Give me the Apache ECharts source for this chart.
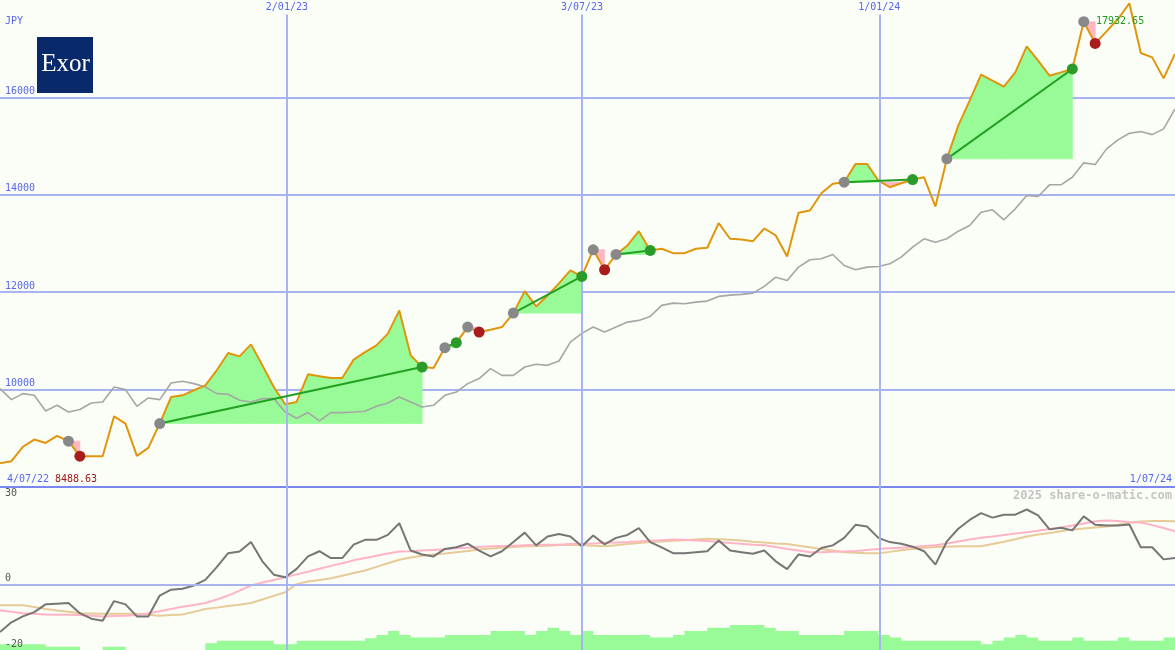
<!DOCTYPE html>
<html><head><meta charset="utf-8">
<script src="https://cdn.jsdelivr.net/npm/echarts@6/dist/echarts.min.js"></script>
<style>html,body{margin:0;padding:0;background:#fbfdf7}#c{width:1175px;height:650px}</style>
</head><body><div id="c"></div>
<script>
// ---------- data (weekly points, index 0..103) ----------
const price = [
8488.63, 8529, 8823, 8974, 8905, 9048, 8940, 8632, 8632, 8632,
9452, 9303, 8638, 8802, 9303, 9848, 9883, 9986, 10088, 10396,
10751, 10683, 10929, 10498, 10053, 9699, 9746, 10314, 10273, 10238,
10238, 10615, 10771, 10909, 11149, 11626, 10703, 10464, 10443, 10861,
10964, 11284, 11181, 11231, 11284, 11571, 12022, 11708, 11934, 12180,
12447, 12324, 12871, 12461, 12775, 12960, 13253, 12857, 12892, 12802,
12802, 12892, 12912, 13417, 13097, 13083, 13048, 13308, 13165, 12734,
13630, 13677, 14032, 14225, 14258, 14635, 14635, 14293, 14155, 14237,
14313, 14360, 13759, 14738, 15421, 15934, 16467, 16344, 16221, 16514,
17047, 16754, 16446, 16514, 16584, 17554, 17109, 17355, 17609, 17932.65,
16912, 16822, 16391, 16891];
const bench = [
10021, 9795, 9918, 9883, 9561, 9678, 9541, 9590, 9725, 9746,
10053, 10000, 9657, 9828, 9795, 10135, 10170, 10123, 10053, 9918,
9904, 9781, 9746, 9815, 9815, 9541, 9411, 9528, 9356, 9528,
9528, 9541, 9555, 9657, 9725, 9848, 9746, 9643, 9678, 9883,
9951, 10123, 10226, 10431, 10293, 10293, 10464, 10519, 10498, 10587,
10976, 11155, 11284, 11181, 11284, 11386, 11421, 11503, 11729, 11776,
11764, 11797, 11817, 11914, 11940, 11955, 11981, 12119, 12309, 12242,
12515, 12666, 12687, 12775, 12549, 12461, 12515, 12529, 12584, 12720,
12925, 13097, 13027, 13097, 13253, 13370, 13643, 13692, 13487, 13712,
13985, 13965, 14205, 14205, 14360, 14656, 14621, 14943, 15128, 15263,
15298, 15236, 15353, 15763];
const momentum = [
-14.5, -11.5, -9.7, -8.4, -6.0, -5.8, -5.6, -8.7, -10.4, -11.0,
-5.0, -6.0, -9.7, -9.7, -3.3, -1.5, -1.2, -0.2, 1.5, 5.4,
9.7, 10.2, 13.1, 7.2, 3.1, 2.3, 4.9, 8.7, 10.3, 8.2,
8.2, 12.3, 13.8, 13.8, 15.3, 18.9, 10.5, 9.3, 8.7, 11.0,
11.5, 12.6, 10.5, 8.7, 10.3, 13.1, 16.0, 12.1, 14.8, 15.6,
14.8, 11.8, 15.1, 12.4, 14.4, 15.3, 17.4, 13.1, 11.5, 9.7,
9.7, 10.0, 10.3, 13.6, 10.5, 10.0, 9.5, 10.5, 7.2, 4.8,
9.3, 8.7, 11.3, 12.1, 14.4, 18.4, 17.9, 14.4, 13.1, 12.6,
11.7, 10.3, 6.2, 13.3, 17.2, 19.9, 22.0, 20.6, 21.5, 21.5,
23.1, 21.3, 17.0, 17.5, 16.7, 21.0, 18.4, 18.2, 18.2, 18.5,
11.5, 11.5, 7.8, 8.2];
const avgFast = [
-7.9, -8.3, -8.7, -8.9, -9.1, -9.2, -9.2, -9.3, -9.5, -9.7,
-9.6, -9.5, -9.3, -8.7, -8.1, -7.4, -6.7, -6.2, -5.6, -4.5,
-3.3, -1.8, -0.2, 0.7, 1.5, 2.3, 3.2, 4.0, 4.9, 5.8,
6.6, 7.5, 8.2, 8.9, 9.6, 10.2, 10.3, 10.5, 10.7, 10.9,
11.2, 11.4, 11.6, 11.8, 11.9, 12.0, 12.1, 12.2, 12.3, 12.3,
12.5, 12.6, 12.7, 12.9, 13.0, 13.1, 13.3, 13.5, 13.7, 13.9,
13.8, 13.6, 13.4, 13.1, 12.8, 12.6, 12.3, 12.1, 11.6, 11.0,
10.5, 10.0, 10.0, 10.1, 10.2, 10.4, 10.7, 11.0, 11.2, 11.4,
11.6, 11.9, 12.1, 12.7, 13.3, 13.9, 14.4, 14.8, 15.3, 15.7,
16.1, 16.6, 17.1, 17.6, 18.2, 18.8, 19.5, 19.7, 19.6, 19.3,
19.1, 18.3, 17.4, 16.4];
const avgSlow = [
-6.3, -6.3, -6.3, -6.8, -7.4, -7.9, -8.3, -8.7, -8.8, -8.9,
-8.9, -8.9, -8.9, -9.2, -9.5, -9.3, -9.1, -8.3, -7.4, -7.0,
-6.5, -6.1, -5.6, -4.5, -3.4, -2.3, 0.2, 1.0, 1.5, 2.0,
2.8, 3.6, 4.4, 5.5, 6.6, 7.7, 8.4, 8.9, 9.3, 9.6,
10.0, 10.4, 10.8, 11.1, 11.4, 11.6, 11.8, 11.9, 12.0, 12.2,
12.3, 12.2, 12.0, 11.8, 12.1, 12.5, 12.8, 13.1, 13.3, 13.5,
13.7, 13.9, 14.1, 14.0, 13.8, 13.6, 13.2, 13.0, 12.7, 12.5,
12.0, 11.5, 11.0, 10.5, 10.0, 9.8, 9.7, 9.7, 10.1, 10.6,
11.0, 11.4, 11.6, 11.7, 11.8, 11.8, 11.8, 12.5, 13.2, 14.0,
14.8, 15.4, 15.9, 16.4, 17.0, 17.3, 17.6, 17.9, 18.4, 19.0,
19.4, 19.6, 19.6, 19.5];
const volumeLevel = [
-18.2, -18.2, -18.2, -18.2, -19.0, -19.0, -19.0, -20, -20, -19.0,
-19.0, -20, -20, -20, -20, -20, -20, -20, -17.9, -17.2,
-17.2, -17.2, -17.2, -17.2, -18.2, -18.2, -17.2, -17.2, -17.2, -17.2,
-17.2, -17.2, -16.4, -15.4, -14.2, -15.4, -16.2, -16.2, -16.2, -15.4,
-15.4, -15.4, -15.4, -14.2, -14.2, -14.2, -15.4, -14.2, -13.2, -14.2,
-15.4, -14.2, -15.4, -15.4, -15.4, -15.4, -15.4, -16.2, -16.2, -15.4,
-14.2, -14.2, -13.2, -13.2, -12.3, -12.3, -12.3, -13.2, -14.2, -14.2,
-15.4, -15.4, -15.4, -15.4, -14.2, -14.2, -14.2, -15.4, -16.2, -17.2,
-17.2, -17.2, -17.2, -17.2, -17.2, -17.2, -18.2, -17.2, -16.2, -15.4,
-16.2, -17.2, -17.2, -17.2, -16.2, -17.2, -17.2, -17.2, -16.2, -17.2,
-17.2, -17.2, -16.2, -16.2];
// trades: [entry index, exit index]
const trades = [[6,7],[14,37],[39,40],[41,42],[45,51],[52,53],[54,57],[74,80],[83,94],[95,96]];
// date grid lines (position in week index units)
const dateLineLabels = ['2/01/23', '3/07/23', '1/01/24'];
const dateLinePos = [25.15, 51.02, 77.08];
const firstDate = '4/07/22', lastDate = '1/07/24';
const topTicks = [10000, 12000, 14000, 16000];
const bottomTicks = [0, -20];
const bottomTopTick = 30;
const currency = 'JPY';
const brand = 'Exor';
const credit = '2025 share-o-matic.com';

// ---------- chart ----------
const MONO = '"DejaVu Sans Mono", monospace';
const BLUE_TXT = '#5866ee';
const GRID_LINE = '#a8b3f2';
const GREEN_FILL = '#98fb98';
const PINK_FILL = '#ffb6c1';
const pair = arr => arr.map((v, i) => [i, v]);
const last = price.length - 1;
const minV = Math.min(...price), maxV = Math.max(...price);

const tradeData = trades.map(t => [t[0], price[t[0]], t[1], price[t[1]]]);

function renderFill(params, api) {
  const i0 = api.value(0), i1 = api.value(2);
  const lvl = price[i0];
  const kids = [];
  const poly = (pts, up) => ({
    type: 'polygon',
    shape: { points: pts.map(p => api.coord(p)) },
    style: { fill: up ? GREEN_FILL : PINK_FILL, stroke: up ? GREEN_FILL : PINK_FILL, lineWidth: 0.8 }
  });
  for (let k = i0; k < i1; k++) {
    const a = price[k], b = price[k + 1];
    if (a >= lvl && b >= lvl) kids.push(poly([[k, lvl], [k, a], [k + 1, b], [k + 1, lvl]], true));
    else if (a <= lvl && b <= lvl) kids.push(poly([[k, lvl], [k, a], [k + 1, b], [k + 1, lvl]], false));
    else {
      const xc = k + (lvl - a) / (b - a);
      kids.push(poly([[k, lvl], [k, a], [xc, lvl]], a > lvl));
      kids.push(poly([[xc, lvl], [k + 1, b], [k + 1, lvl]], b > lvl));
    }
  }
  return { type: 'group', children: kids };
}
function renderTradeLine(params, api) {
  const win = api.value(3) >= api.value(1);
  if (!win) return null;
  const p0 = api.coord([api.value(0), api.value(1)]);
  const p1 = api.coord([api.value(2), api.value(3)]);
  return { type: 'line', shape: { x1: p0[0], y1: p0[1], x2: p1[0], y2: p1[1] },
    style: { stroke: '#22a022', lineWidth: 2 } };
}

const chart = echarts.init(document.getElementById('c'));
chart.setOption({
  animation: false,
  backgroundColor: '#fbfdf7',
  grid: [
    { left: 0, right: 0, top: 0, height: 487 },
    { left: 0, right: 0, top: 487, height: 163 }
  ],
  xAxis: [
    { gridIndex: 0, type: 'value', min: 0, max: last, show: true, position: 'bottom',
      axisLine: { show: true, onZero: false, lineStyle: { color: '#7a87ee', width: 2 } },
      axisTick: { show: false }, axisLabel: { show: false }, splitLine: { show: false } },
    { gridIndex: 1, type: 'value', min: 0, max: last, show: false }
  ],
  yAxis: [
    { gridIndex: 0, type: 'value', min: 8000, max: 18000, interval: 2000,
      axisLine: { show: false }, axisTick: { show: false },
      splitLine: { show: true, showMinLine: false, showMaxLine: false, lineStyle: { color: GRID_LINE, width: 2 } },
      axisLabel: { inside: true, margin: 5, verticalAlign: 'bottom', color: BLUE_TXT, fontFamily: MONO, fontSize: 10, lineHeight: 12,
        formatter: v => topTicks.includes(v) ? String(v) : '' } },
    { gridIndex: 1, type: 'value', min: -20, max: 30, interval: 10, z: 10,
      axisLine: { show: false }, axisTick: { show: false }, splitLine: { show: false },
      axisLabel: { inside: true, margin: 5, verticalAlign: 'bottom', color: '#555555', fontFamily: MONO, fontSize: 10, lineHeight: 12,
        formatter: v => bottomTicks.includes(v) ? String(v) : '' } },
    { gridIndex: 1, type: 'value', min: -20, max: 30, interval: 10, position: 'left', z: 10,
      axisLine: { show: false }, axisTick: { show: false }, splitLine: { show: false },
      axisLabel: { inside: true, margin: 5, verticalAlign: 'top', color: '#555555', fontFamily: MONO, fontSize: 10, lineHeight: 12,
        formatter: v => v === bottomTopTick ? String(v) : '' } }
  ],
  series: [
    // bottom panel helper: date lines + zero line
    { type: 'line', xAxisIndex: 1, yAxisIndex: 1, data: [], z: 0, silent: true,
      markLine: { silent: true, symbol: ['none', 'none'], animation: false, label: { show: false },
        lineStyle: { color: GRID_LINE, width: 2, type: 'solid' },
        data: dateLinePos.map(x => [{ coord: [x, 30] }, { coord: [x, -20] }]).concat([{ yAxis: 0 }]) } },
    { type: 'line', xAxisIndex: 1, yAxisIndex: 1, data: pair(volumeLevel), step: 'end', symbol: 'none', z: 1,
      lineStyle: { width: 0 }, areaStyle: { color: GREEN_FILL, opacity: 1, origin: 'start' }, silent: true },
    { type: 'line', xAxisIndex: 1, yAxisIndex: 1, data: pair(avgSlow), symbol: 'none', z: 2,
      lineStyle: { color: '#e6cb98', width: 2 }, silent: true },
    { type: 'line', xAxisIndex: 1, yAxisIndex: 1, data: pair(avgFast), symbol: 'none', z: 3,
      lineStyle: { color: '#ffb4c6', width: 2 }, silent: true },
    { type: 'line', xAxisIndex: 1, yAxisIndex: 1, data: pair(momentum), symbol: 'none', z: 4,
      lineStyle: { color: '#767676', width: 2 }, silent: true },
    // top panel
    { type: 'custom', xAxisIndex: 0, yAxisIndex: 0, data: tradeData, encode: { x: 0, y: 1 }, renderItem: renderFill, z: 1, silent: true },
    { type: 'line', xAxisIndex: 0, yAxisIndex: 0, data: [], z: 2, silent: true,
      markLine: { silent: true, symbol: ['none', 'none'], animation: false,
        lineStyle: { color: GRID_LINE, width: 2, type: 'solid' },
        label: { show: true, position: 'start', distance: 2, formatter: '{b}', color: BLUE_TXT, fontFamily: MONO, fontSize: 10 },
        data: dateLinePos.map((x, i) => [{ coord: [x, 17700], name: dateLineLabels[i] }, { coord: [x, 8000] }]) } },
    { type: 'line', xAxisIndex: 0, yAxisIndex: 0, data: pair(bench), symbol: 'none', z: 3,
      lineStyle: { color: '#a6a6a6', width: 1.6 }, silent: true },
    { type: 'line', xAxisIndex: 0, yAxisIndex: 0, data: pair(price), symbol: 'none', z: 4,
      lineStyle: { color: '#e0960c', width: 2 }, silent: true },
    { type: 'custom', xAxisIndex: 0, yAxisIndex: 0, data: tradeData, encode: { x: 0, y: 1 }, renderItem: renderTradeLine, z: 5, silent: true },
    { type: 'scatter', xAxisIndex: 0, yAxisIndex: 0, symbolSize: 11, z: 6, silent: true,
      itemStyle: { color: '#888888', opacity: 1 }, data: trades.map(t => [t[0], price[t[0]]]) },
    { type: 'scatter', xAxisIndex: 0, yAxisIndex: 0, symbolSize: 11, z: 6, silent: true,
      itemStyle: { color: '#2a9a2a', opacity: 1 }, data: trades.filter(t => price[t[1]] >= price[t[0]]).map(t => [t[1], price[t[1]]]) },
    { type: 'scatter', xAxisIndex: 0, yAxisIndex: 0, symbolSize: 11, z: 6, silent: true,
      itemStyle: { color: '#a81c1c', opacity: 1 }, data: trades.filter(t => price[t[1]] < price[t[0]]).map(t => [t[1], price[t[1]]]) }
  ],
  graphic: [
    { type: 'rect', left: 37, top: 37, shape: { width: 56, height: 56 }, style: { fill: '#08296a' }, z: 10 },
    { type: 'text', x: 65.5, y: 64, z: 11, style: { text: brand, fill: '#ffffff', font: '25px "Liberation Serif", serif', align: 'center', verticalAlign: 'middle' } },
    { type: 'text', x: 5, y: 21, z: 11, style: { text: currency, fill: BLUE_TXT, font: '10px ' + MONO, align: 'left', verticalAlign: 'middle' } },
    { type: 'text', x: 7, y: 479, z: 11, style: { text: firstDate, fill: BLUE_TXT, font: '10px ' + MONO, align: 'left', verticalAlign: 'middle' } },
    { type: 'text', x: 55, y: 479, z: 11, style: { text: minV.toFixed(2), fill: '#a01818', font: '10px ' + MONO, align: 'left', verticalAlign: 'middle' } },
    { type: 'text', x: 1172, y: 479, z: 11, style: { text: lastDate, fill: BLUE_TXT, font: '10px ' + MONO, align: 'right', verticalAlign: 'middle' } },
    { type: 'text', x: 1096, y: 21, z: 11, style: { text: maxV.toFixed(2), fill: '#1f9a1f', font: '10px ' + MONO, align: 'left', verticalAlign: 'middle' } },
    { type: 'text', x: 1172, y: 496, z: 11, style: { text: credit, fill: '#c4c4c4', font: 'bold 12px ' + MONO, align: 'right', verticalAlign: 'middle' } }
  ]
});
</script></body></html>
